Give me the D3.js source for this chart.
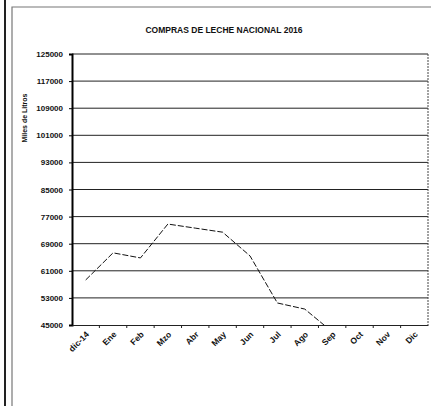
<!DOCTYPE html>
<html>
<head>
<meta charset="utf-8">
<script src="https://cdn.jsdelivr.net/npm/d3@7"></script>
<style>
  body { margin: 0; background: #fff; }
  text { font-family: "Liberation Sans", Arial, sans-serif; fill: #111; }
</style>
</head>
<body>
<svg id="chart" width="431" height="406"></svg>
<script>
// data
var months = ["dic-14", "Ene", "Feb", "Mzo", "Abr", "May", "Jun", "Jul", "Ago", "Sep", "Oct", "Nov", "Dic"];
var litros = [58300, 66300, 64800, 74800, 73600, 72400, 65400, 51500, 49700, 43000, null, null, null];
var yTicks = [45000, 53000, 61000, 69000, 77000, 85000, 93000, 101000, 109000, 117000, 125000];

var svg = d3.select("#chart");

// plot area
var plot = { l: 72, r: 428, t: 54, b: 325 };

var xScale = d3.scaleBand().domain(months).range([plot.l, plot.r]);
var yScale = d3.scaleLinear().domain([45000, 125000]).range([plot.b, plot.t]);

// outer frame (scanned page)
svg.append("line").attr("x1", 5).attr("x2", 5).attr("y1", 0).attr("y2", 406)
  .attr("stroke", "#222").attr("stroke-width", 2);
svg.append("polyline")
  .attr("points", "12,406 12,7 431,7")
  .attr("fill", "none").attr("stroke", "#777").attr("stroke-width", 1.2);

// title
svg.append("text")
  .attr("x", 224).attr("y", 33)
  .attr("text-anchor", "middle")
  .style("font-size", "8.5px").style("font-weight", "bold")
  .text("COMPRAS DE LECHE NACIONAL 2016");

// y axis label
svg.append("text")
  .attr("transform", "translate(27,118) rotate(-90)")
  .attr("text-anchor", "middle")
  .style("font-size", "7px").style("font-weight", "bold")
  .text("Miles de Litros");

// gridlines
svg.append("g").selectAll("line")
  .data(yTicks.slice(1))
  .enter().append("line")
  .attr("x1", plot.l).attr("x2", plot.r)
  .attr("y1", d => yScale(d)).attr("y2", d => yScale(d))
  .attr("stroke", "#222").attr("stroke-width", 1);

// right border of plot area
svg.append("line")
  .attr("x1", plot.r).attr("x2", plot.r).attr("y1", plot.t).attr("y2", plot.b)
  .attr("stroke", "#444").attr("stroke-width", 1).attr("stroke-dasharray", "2,1");

// y axis
var yAxis = d3.axisLeft(yScale).tickValues(yTicks).tickSize(3).tickPadding(6).tickFormat(d3.format("d"));
var gy = svg.append("g").attr("transform", "translate(" + plot.l + ",0)").call(yAxis);
gy.select(".domain").attr("stroke", "#000").attr("stroke-width", 2);
gy.selectAll("text").style("font-size", "8px").style("font-weight", "bold");

// x axis
var xAxis = d3.axisBottom(xScale).tickSize(0).tickPadding(0);
var gx = svg.append("g").attr("transform", "translate(0," + plot.b + ")").call(xAxis);
gx.select(".domain").attr("stroke", "#222").attr("stroke-width", 1);
gx.selectAll("text")
  .style("font-size", "8.5px").style("font-weight", "bold")
  .style("text-anchor", "end")
  .attr("dy", null).attr("y", 0)
  .attr("transform", "translate(4,10) rotate(-45)");

// tick marks between categories
svg.append("g").selectAll("line")
  .data(months.slice(1))
  .enter().append("line")
  .attr("x1", d => xScale(d)).attr("x2", d => xScale(d))
  .attr("y1", plot.b).attr("y2", plot.b + 3)
  .attr("stroke", "#222");

// the line, clipped to plot area
svg.append("clipPath").attr("id", "clip")
  .append("rect").attr("x", plot.l).attr("y", plot.t)
  .attr("width", plot.r - plot.l).attr("height", plot.b - plot.t);

var series = months.map((m, i) => ({ m: m, v: litros[i] })).filter(d => d.v !== null);

var line = d3.line()
  .x(d => xScale(d.m) + xScale.bandwidth() / 2)
  .y(d => yScale(d.v));

svg.append("path")
  .datum(series)
  .attr("clip-path", "url(#clip)")
  .attr("d", line)
  .attr("fill", "none")
  .attr("stroke", "#111")
  .attr("stroke-width", 1)
  .attr("stroke-dasharray", "6,2");
</script>
</body>
</html>
